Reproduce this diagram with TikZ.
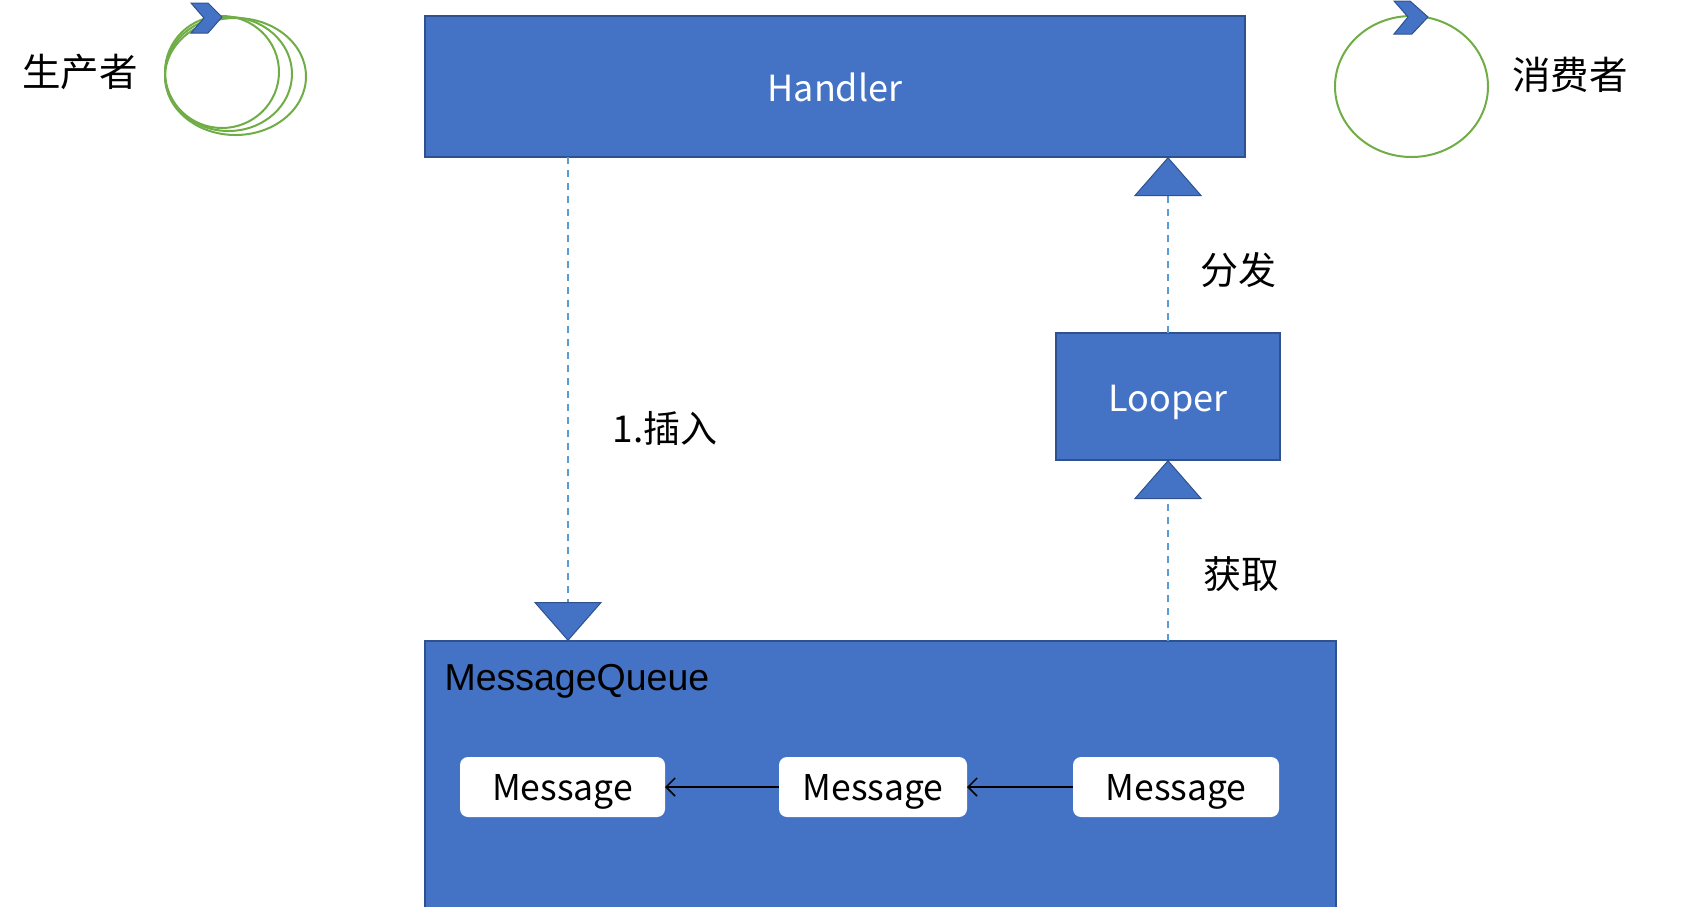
\documentclass[tikz,border=0pt]{standalone}
\usepackage{fontspec}
\setmainfont{Noto Sans CJK SC}
\newfontfamily\arialfont{Liberation Sans}
\usepackage{xcolor}
\usepackage{tikz}
\usetikzlibrary{arrows.meta, positioning}
\definecolor{boxblue}{HTML}{4472C4}
\definecolor{boxline}{HTML}{2F528F}
\definecolor{dashblue}{HTML}{5B9BD5}
\definecolor{loopgreen}{HTML}{70AD47}
\tikzstyle{bluebox} = [draw=boxline, fill=boxblue, line width=1.5pt, inner sep=0pt, outer sep=0pt, text=white, text height=30pt, text depth=0pt, font=\fontsize{36}{40}\selectfont]
\tikzstyle{msgbox} = [fill=white, rounded corners=8pt, inner sep=0pt, outer sep=0pt, minimum height=60pt, text height=27pt, text depth=0pt, font=\fontsize{35.5}{40}\selectfont]
\tikzstyle{flow} = [dashblue, line width=2pt, dash pattern=on 7pt off 6pt, -{Triangle[width=68pt,length=39pt,fill=boxblue,color=boxline,line width=1pt]}]
\tikzstyle{link} = [line width=1.5pt, -{Straight Barb[length=9pt,width=18pt]}]
\tikzstyle{cjk} = [font=\fontsize{37}{40}\selectfont]

\begin{document}
\begin{tikzpicture}[x=1pt, y=-1pt]
	\useasboundingbox (0,0) rectangle (1697,906);

	% Boxes:
	\node [bluebox, minimum width=820pt, minimum height=141pt] (handler) at (835,86.5) {Handler};
	\node [bluebox, minimum width=224pt, minimum height=127pt] (looper) at (1168,396.5) {Looper};
	\node [bluebox, minimum width=911pt, minimum height=300pt] (queue) at (880.5,791) {};
	\node [anchor=base west, font=\arialfont\fontsize{37.5}{40}\selectfont] (queuename) at (441,690) {MessageQueue};

	% Messages inside the queue:
	\node [msgbox, minimum width=205pt] (msga) at (562.5,787) {Message};
	\node [msgbox, minimum width=188pt] (msgb) at (873,787) {Message};
	\node [msgbox, minimum width=206pt] (msgc) at (1176,787) {Message};
	\draw [link] (msgb) -- (msga);
	\draw [link] (msgc) -- (msgb);

	% Dashed arrows with big triangles:
	\coordinate (insert) at (568,157);
	\draw [flow] (insert) -- (insert |- queue.north);
	\draw [flow] (looper.north) -- (looper.north |- handler.south);
	\draw [flow] (queue.north -| looper.south) -- (looper.south);

	% Labels:
	\node [cjk] (insertlabel) at (665,428) {1.插入};
	\node [cjk, font=\fontsize{38}{40}\selectfont] (sendlabel) at (1238,270) {分发};
	\node [cjk, font=\fontsize{38}{40}\selectfont] (takelabel) at (1241,574) {获取};
	\node [cjk, font=\fontsize{38.5}{40}\selectfont] (producer) at (80,72) {生产者};
	\node [cjk, font=\fontsize{38.5}{40}\selectfont] (consumer) at (1570,75) {消费者};

	% Loops:
	\begin{scope}[loopgreen, line width=2pt]
	\draw (222,72) ellipse (57pt and 56pt);
	\draw (228.5,74) ellipse (63.5pt and 57pt);
	\draw (235.5,76.5) ellipse (70.5pt and 58.5pt);
	\draw (1411.5,86.5) ellipse (76.5pt and 70.5pt);
	\end{scope}
	\begin{scope}[fill=boxblue, draw=boxline, line width=1pt]
	\filldraw (191,3) -- (208,3) -- (222,17) -- (208,33) -- (191,33) -- (204,18) -- cycle;
	\filldraw (1394,1) -- (1410,1) -- (1428,17) -- (1412,34) -- (1394,34) -- (1408,17) -- cycle;
	\end{scope}
\end{tikzpicture}
\end{document}
